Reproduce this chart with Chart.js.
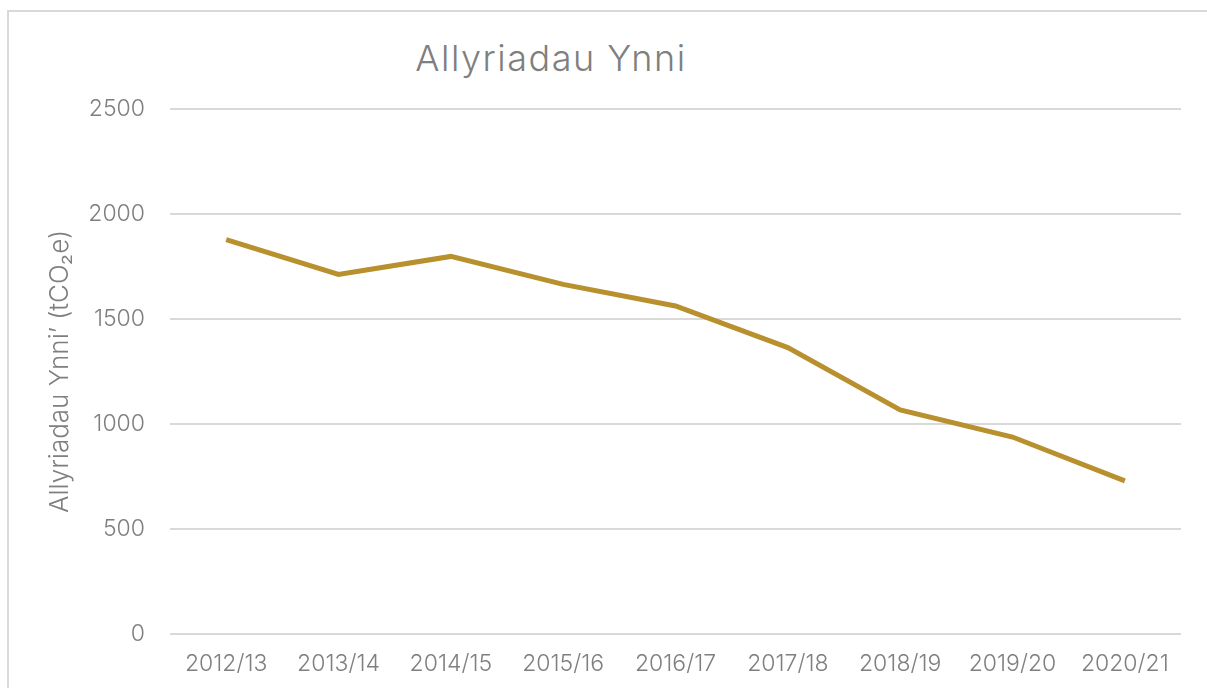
<!DOCTYPE html>
<html>
<head>
<meta charset="utf-8">
<script src="https://cdn.jsdelivr.net/npm/chart.js@4.4.0/dist/chart.umd.min.js"></script>
<style>
  html, body { margin: 0; padding: 0; background: #fff; overflow: hidden; }
  .frame { position: absolute; left: 7px; top: 10px; width: 1300px; height: 800px; border: 2px solid #d9d9d9; box-sizing: border-box; }
  .chart-title { position: absolute; left: 301px; width: 500px; top: 36px; text-align: center; font-family: Inter, 'Open Sans', sans-serif; font-weight: 300; font-size: 36px; letter-spacing: 1.5px; color: #7f7f7f; }
  .chart-box { position: absolute; left: 0; top: 0; width: 1207px; height: 688px; }
</style>
</head>
<body>
<div class="frame"></div>
<div class="chart-title">Allyriadau Ynni</div>
<div class="chart-box"><canvas id="mychart"></canvas></div>
<script>
const years = ['2012/13', '2013/14', '2014/15', '2015/16', '2016/17', '2017/18', '2018/19', '2019/20', '2020/21'];
const emissions = [1878, 1712, 1798, 1665, 1562, 1364, 1067, 938, 729];
const yTicks = [0, 500, 1000, 1500, 2000, 2500];

const ctx = document.getElementById('mychart').getContext('2d');
const fontFamily = "Inter, 'Open Sans', sans-serif";

new Chart(ctx, {
  type: 'line',
  data: {
    labels: years,
    datasets: [
      {
        data: emissions,
        borderColor: '#b8902d',
        borderWidth: 5,
        pointRadius: 0,
        tension: 0,
      },
    ],
  },
  options: {
    responsive: true,
    maintainAspectRatio: false,
    animation: false,
    layout: {
      padding: { left: 0, right: 26, top: 109, bottom: 0 },
    },
    scales: {
      x: {
        offset: true,
        grid: { display: false, drawTicks: false },
        border: { display: false },
        ticks: {
          color: '#7f7f7f',
          font: { family: fontFamily, size: 23, weight: 300 },
          padding: 16,
          maxRotation: 0,
        },
        afterFit: (scale) => { scale.height = 54; },
      },
      y: {
        min: yTicks[0],
        max: yTicks[yTicks.length - 1],
        afterBuildTicks: (scale) => { scale.ticks = yTicks.map((v) => ({ value: v })); },
        grid: { color: '#d9d9d9', lineWidth: 2, drawTicks: false },
        border: { display: false },
        ticks: {
          color: '#7f7f7f',
          font: { family: fontFamily, size: 23, weight: 300 },
          padding: 25,
          callback: (value) => String(value),
        },
        title: {
          display: true,
          text: 'Allyriadau Ynni\u2019 (tCO\u2082e)',
          color: '#7f7f7f',
          font: { family: fontFamily, size: 26, weight: 300 },
          padding: { top: 45, bottom: 0 },
        },
        afterFit: (scale) => { scale.width = 170; },
      },
    },
    plugins: {
      legend: { display: false },
      tooltip: { enabled: false },
      title: { display: false },
    },
  },
});
</script>
</body>
</html>
